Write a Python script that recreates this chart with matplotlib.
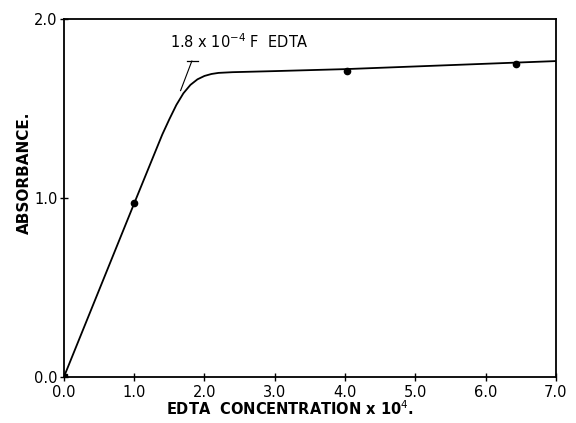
import matplotlib
matplotlib.use("Agg")
import matplotlib.pyplot as plt

# measured points
conc = [0.0, 1.0, 4.03, 6.44]
absb = [0.0, 0.97, 1.71, 1.75]

# smooth curve as drawn in the figure
curve_x = [0.0, 0.5, 1.0, 1.4, 1.5, 1.6, 1.7, 1.8, 1.9, 2.0, 2.1, 2.2, 2.4, 2.7, 3.0, 4.0, 5.0, 6.0, 7.0]
curve_y = [0.0, 0.485, 0.97, 1.355, 1.44, 1.52, 1.585, 1.632, 1.663, 1.682, 1.693, 1.699, 1.703, 1.706, 1.709, 1.72, 1.735, 1.75, 1.765]

xticks = [0, 1, 2, 3, 4, 5, 6, 7]
xticklabels = ["0.0", "1.0", "2.0", "3.0", "4.0", "5.0", "6.0", "7.0"]
yticks = [0, 1, 2]
yticklabels = ["0.0", "1.0", "2.0"]

fig = plt.figure(figsize=(5.76, 4.23), dpi=100)
ax = fig.add_axes([0.111, 0.109, 0.854, 0.846])

ax.plot(curve_x, curve_y, color="black", lw=1.3)
ax.plot(conc[1:], absb[1:], "o", color="black", ms=4.5)
ax.plot(conc[:1], absb[:1], "s", color="black", ms=4.5)

# intersection marker for the end point
ax.plot([1.66, 1.82], [1.60, 1.765], color="black", lw=0.8)
ax.plot([1.75, 1.91], [1.765, 1.765], color="black", lw=0.9)
ax.text(1.51, 1.84, "1.8 x 10$^{-4}$ F  EDTA", fontsize=10.5, ha="left", va="baseline")

ax.set_xlim(0, 7)
ax.set_ylim(0, 2)
ax.set_xticks(xticks)
ax.set_xticklabels(xticklabels)
ax.set_yticks(yticks)
ax.set_yticklabels(yticklabels)
ax.tick_params(direction="inout", length=6, width=1, labelsize=10.5)
ax.tick_params(axis="x", pad=2.5)
ax.tick_params(axis="y", pad=1.5)
for s in ax.spines.values():
    s.set_linewidth(1.3)

ax.set_xlabel("EDTA  CONCENTRATION x 10$^4$.", fontsize=10.5, fontweight="bold")
ax.set_ylabel("ABSORBANCE.", fontsize=11, fontweight="bold")
ax.xaxis.set_label_coords(0.46, -0.063)
ax.yaxis.set_label_coords(-0.065, 0.57)

fig.savefig("out.png", dpi=100)
